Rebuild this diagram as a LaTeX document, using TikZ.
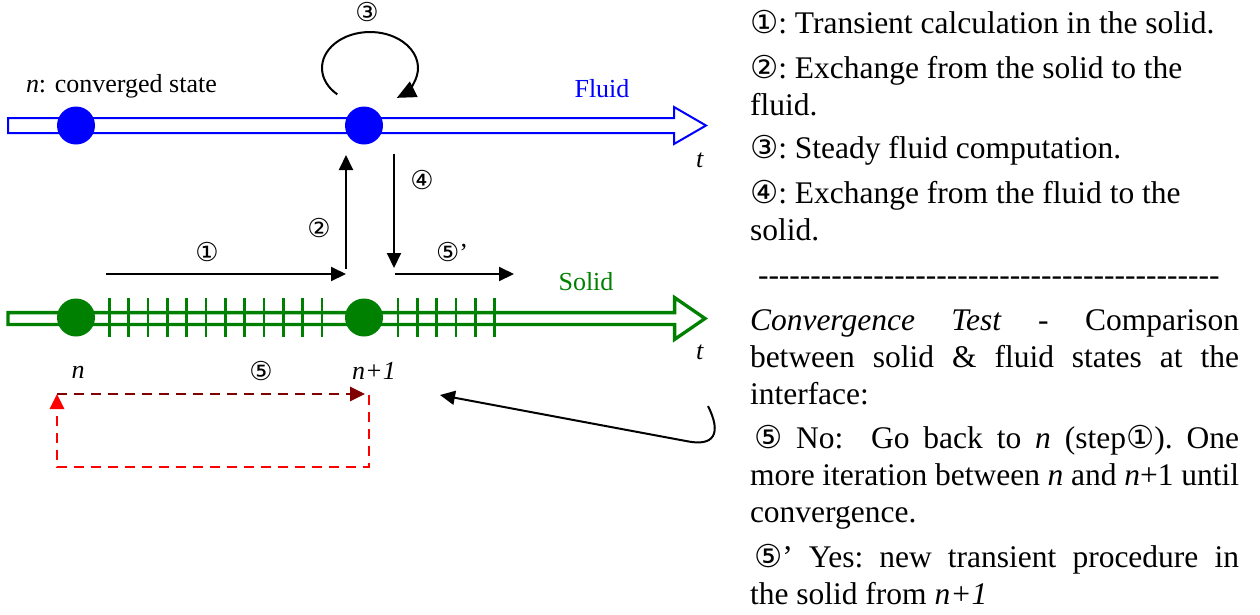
\documentclass[tikz,border=0pt]{standalone}
\usepackage{fontspec}
\setmainfont{Liberation Serif}
\newfontfamily\circfont{DejaVu Sans}
\usetikzlibrary{arrows.meta}
\definecolor{fluidblue}{RGB}{0,0,255}
\definecolor{solidgreen}{RGB}{0,128,0}
\definecolor{backred}{RGB}{128,0,0}
\newcommand{\cnum}[1]{{\circfont #1}}
\newcommand{\dashrow}{\foreach \i in {1,...,44}{-\kern0pt}}
% word spaces that can stretch; the skips are set right before the paragraph ends
\newcommand{\wordspace}{\frenchspacing\hyphenpenalty=10000\tolerance=9999\spaceskip=0.25em plus 0.5em minus 0.09em\xspaceskip=0pt\relax}
\newcommand{\raggedend}{\leftskip=0pt\rightskip=0pt plus 1fil\parfillskip=0pt plus 1fil\par}
\newcommand{\justend}{\leftskip=0pt\rightskip=0pt\parfillskip=0pt plus 1fil\par}
\tikzset{
  dot/.style={circle, minimum size=38pt, inner sep=0pt},
  lbl/.style={inner sep=0pt, font=\fontsize{26}{30}\selectfont},
  note/.style={inner sep=0pt, anchor=base west, text width=489pt, font=\fontsize{31.5}{37}\selectfont},
  redline/.style={dash pattern=on 10pt off 7pt, line width=2.7pt}
}

\begin{document}
\begin{tikzpicture}[x=1pt, y=-1pt, line width=2pt, >={Triangle[length=15pt, width=14pt]}]
        \useasboundingbox (0,0) rectangle (1260,614);

        % Time axes
        \draw[fluidblue, line width=2pt, fill=white] (8,118) -- (674,118) -- (674,107) -- (706,125.5)
            -- (674,144) -- (674,133) -- (8,133) -- cycle;
        \draw[solidgreen, line width=3.3pt, fill=white] (8,312.6) -- (674.6,312.6) -- (674.6,297.6) -- (705,318.5)
            -- (674.6,339.4) -- (674.6,324.4) -- (8,324.4) -- cycle;
        \foreach \k in {0,...,11}
            \draw[solidgreen, line width=2.5pt] ({109.3+19.33*\k},298) -- ++(0,39);
        \foreach \k in {0,...,5}
            \draw[solidgreen, line width=2.5pt] ({398+19.33*\k},298) -- ++(0,39);

        % Nodes
        \node[dot, fill=fluidblue] (fn) at (76,125.5) {};
        \node[dot, fill=fluidblue] (fn1) at (364,125.5) {};
        \node[dot, fill=solidgreen] (sn) at (76,317.5) {};
        \node[dot, fill=solidgreen] (sn1) at (364,317.5) {};

        \node[lbl, anchor=base west] (conv) at (25,92) {\textit{n}: converged state};
        \node[lbl, anchor=base, text=fluidblue] (fluid) at (602,97) {Fluid};
        \node[lbl, anchor=base, text=solidgreen] (solid) at (586,290) {Solid};
        \node[lbl, anchor=base] (tf) at (700,167) {\textit{t}};
        \node[lbl, anchor=base] (ts) at (700,359) {\textit{t}};
        \node[lbl, anchor=base] (ln) at (78,378) {\textit{n}};
        \node[lbl, anchor=base] (ln1) at (374,379) {\textit{n+1}};

        \node[lbl] (c1) at (207,252) {\cnum{①}};
        \node[lbl] (c2) at (319,228) {\cnum{②}};
        \node[lbl] (c3) at (367,12) {\cnum{③}};
        \node[lbl] (c4) at (422,180) {\cnum{④}};
        \node[lbl] (c5) at (261,371) {\cnum{⑤}};
        \node[lbl] (c5p) at (452,252) {\cnum{⑤}’};

        % Free ends
        \coordinate (a1s) at (106,274);
        \coordinate (a1e) at (346,274);
        \coordinate (a2s) at (346,269);
        \coordinate (a2e) at (346,155);
        \coordinate (a4s) at (394,154);
        \coordinate (a4e) at (394,268);
        \coordinate (a5s) at (395,274);
        \coordinate (a5e) at (514,274);
        \coordinate (loopc) at (370,68);
        \coordinate (rtl) at (57,394);
        \coordinate (rtr) at (365,394);
        \coordinate (rtrr) at (369,395);
        \coordinate (rbl) at (57,467);
        \coordinate (cvs) at (708,406);
        \coordinate (cve) at (440,395);

        % Directed edges
        \draw[->] (a1s) -- (a1e);
        \draw[->] (a2s) -- (a2e);
        \draw[->] (a4s) -- (a4e);
        \draw[->] (a5s) -- (a5e);
        \draw[-{Triangle[length=19pt, width=17pt]}] (loopc) ++(133:48 and 36)
            arc[start angle=133, end angle=416, x radius=48, y radius=36];
        \draw[->] (cvs) .. controls (722,434) and (714,447) .. (686,441) .. controls (600,425) and (520,410) .. (cve);

        % Back to n
        \draw[backred, redline, ->] (rtl) -- (rtr);
        \draw[red, redline, ->] (rtrr) |- (rbl) -- (rtl);

        % Legend
        \node[note] (p1) at (749,33) {\wordspace\cnum{①}: Transient calculation in the solid.\raggedend};
        \node[note] (p2) at (749,78) {\wordspace\cnum{②}: Exchange from the solid to the\linebreak fluid.\raggedend};
        \node[note] (p3) at (749,158) {\wordspace\cnum{③}: Steady fluid computation.\raggedend};
        \node[note] (p4) at (749,203) {\wordspace\cnum{④}: Exchange from the fluid to the\linebreak solid.\raggedend};
        \node[note, text width=, anchor=base west] (sep) at (757,285) {\dashrow};
        \node[note] (p5) at (749,330) {\wordspace\textit{Convergence Test} - Comparison\linebreak
            between solid \& fluid states at the\linebreak interface:\justend};
        \node[note] (p6) at (749,448) {\wordspace\hspace*{4pt}\cnum{⑤} No:\ \ Go back to \textit{n} (step\cnum{①}). One\linebreak
            more iteration between \textit{n} and \textit{n}+1 until\linebreak convergence.\justend};
        \node[note] (p7) at (749,567) {\wordspace\hspace*{4pt}\cnum{⑤}’ Yes: new transient procedure in\linebreak
            the solid from \textit{n+1}\justend};
\end{tikzpicture}
\end{document}
